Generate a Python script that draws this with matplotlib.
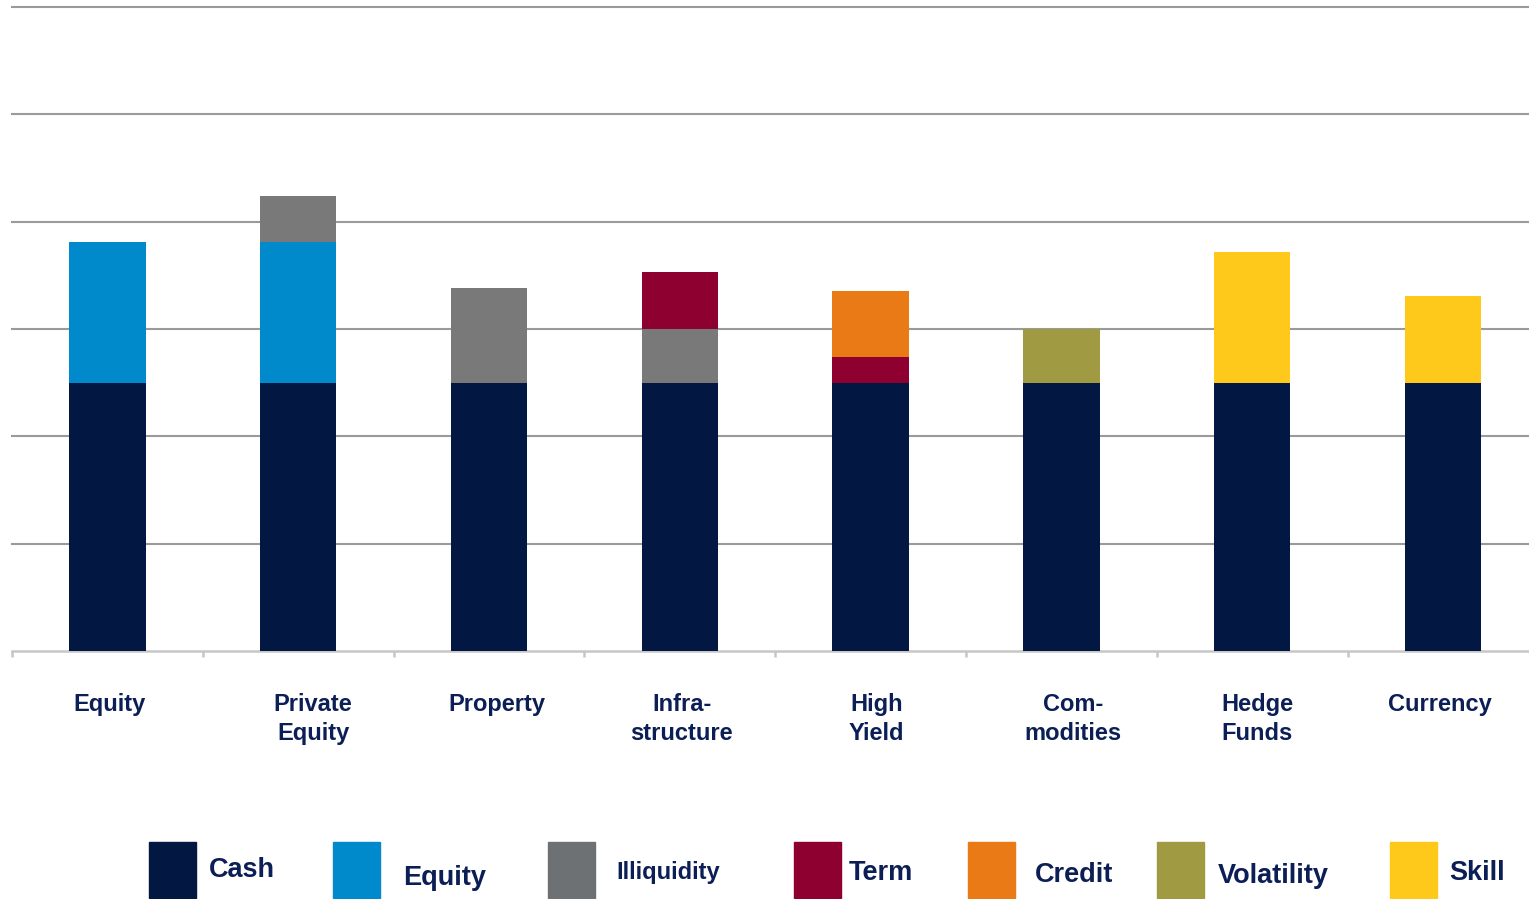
import matplotlib
matplotlib.use("Agg")
import matplotlib.pyplot as plt
import matplotlib.transforms as mtransforms
from matplotlib.patches import Rectangle
import numpy as np

plt.rcParams['font.family'] = ['Liberation Sans', 'DejaVu Sans']

categories = ["Equity", "Private\nEquity", "Property", "Infra-\nstructure",
              "High\nYield", "Com-\nmodities", "Hedge\nFunds", "Currency"]

components = ["Cash", "Equity", "Illiquidity", "Term", "Credit", "Volatility", "Skill"]
cash        = [2.5, 2.5, 2.5, 2.5, 2.5, 2.5, 2.5, 2.5]
equity      = [1.31, 1.31, 0, 0, 0, 0, 0, 0]
illiquidity = [0, 0.43, 0.88, 0.5, 0, 0, 0, 0]
term        = [0, 0, 0, 0.53, 0.24, 0, 0, 0]
credit      = [0, 0, 0, 0, 0.61, 0, 0, 0]
volatility  = [0, 0, 0, 0, 0, 0.5, 0, 0]
skill       = [0, 0, 0, 0, 0, 0, 1.22, 0.81]

colors = {"Cash": "#021842", "Equity": "#0089CB", "Illiquidity": "#797979",
          "Term": "#8D0030", "Credit": "#EA7A15", "Volatility": "#A09A42",
          "Skill": "#FEC91B"}
legend_colors = dict(colors, Illiquidity="#6E7174")
text_color = "#0B1E55"

series = [cash, equity, illiquidity, term, credit, volatility, skill]

W, H = 1529, 899
fig = plt.figure(figsize=(W / 100, H / 100), dpi=100)
cat_w = 190.8
ax = fig.add_axes([12 / W, (H - 651) / H, 8 * cat_w / W, (651 - 7) / H])

x = np.arange(len(categories))
bottom = np.zeros(len(categories))
for name, vals in zip(components, series):
    vals = np.array(vals, dtype=float)
    ax.bar(x, vals, width=0.40, bottom=bottom, color=colors[name], zorder=3, linewidth=0)
    bottom += vals

ax.set_xlim(-0.5, len(categories) - 0.5)
ax.set_ylim(0, 6)
for y in range(1, 7):
    ax.axhline(y, color="#9A9A9A", linewidth=1.5, zorder=1, clip_on=False)

for s in ["top", "right", "left"]:
    ax.spines[s].set_visible(False)
ax.spines["bottom"].set_color("#C6C6C6")
ax.spines["bottom"].set_linewidth(1.8)
ax.set_yticks([])
ax.set_xticks(x)
ax.set_xticklabels([])
ax.tick_params(axis="x", which="major", length=0)
ax.set_xticks(np.arange(-0.5, len(categories), 1.0), minor=True)
ax.tick_params(axis="x", which="minor", length=4.5, width=1.8, color="#C6C6C6",
               direction="out")

# category labels (slightly offset as in the original layout)
label_dx = [2, 15, 8, 2, 6, 12, 5, -3]  # pixels
base = mtransforms.blended_transform_factory(ax.transData, fig.transFigure)
for xi, lab, dx in zip(x, categories, label_dx):
    tr = base + mtransforms.ScaledTranslation(dx / 100, 0, fig.dpi_scale_trans)
    ax.text(xi, (H - 693) / H, lab, transform=tr, ha="center", va="top",
            fontsize=17, fontweight="bold", color=text_color, linespacing=1.32)

# legend drawn manually in figure pixel coordinates
sq_left = [149, 333, 548, 794, 968, 1157, 1390]
txt_left = [209, 403, 616, 849, 1035, 1218, 1449]
txt_y = [870, 878, 873, 873, 875, 876, 873]
txt_size = [19.5, 19.5, 17, 19.5, 19.5, 19.5, 19.5]
for name, sl, tl, ty, fs in zip(components, sq_left, txt_left, txt_y, txt_size):
    fig.patches.append(Rectangle((sl / W, (H - 898) / H), 47 / W, 56 / H,
                                 transform=fig.transFigure, color=legend_colors[name]))
    fig.text(tl / W, (H - ty) / H, name, fontsize=fs, fontweight="bold",
             color=text_color, ha="left", va="center")

fig.savefig("out.png", dpi=100, facecolor="white")
